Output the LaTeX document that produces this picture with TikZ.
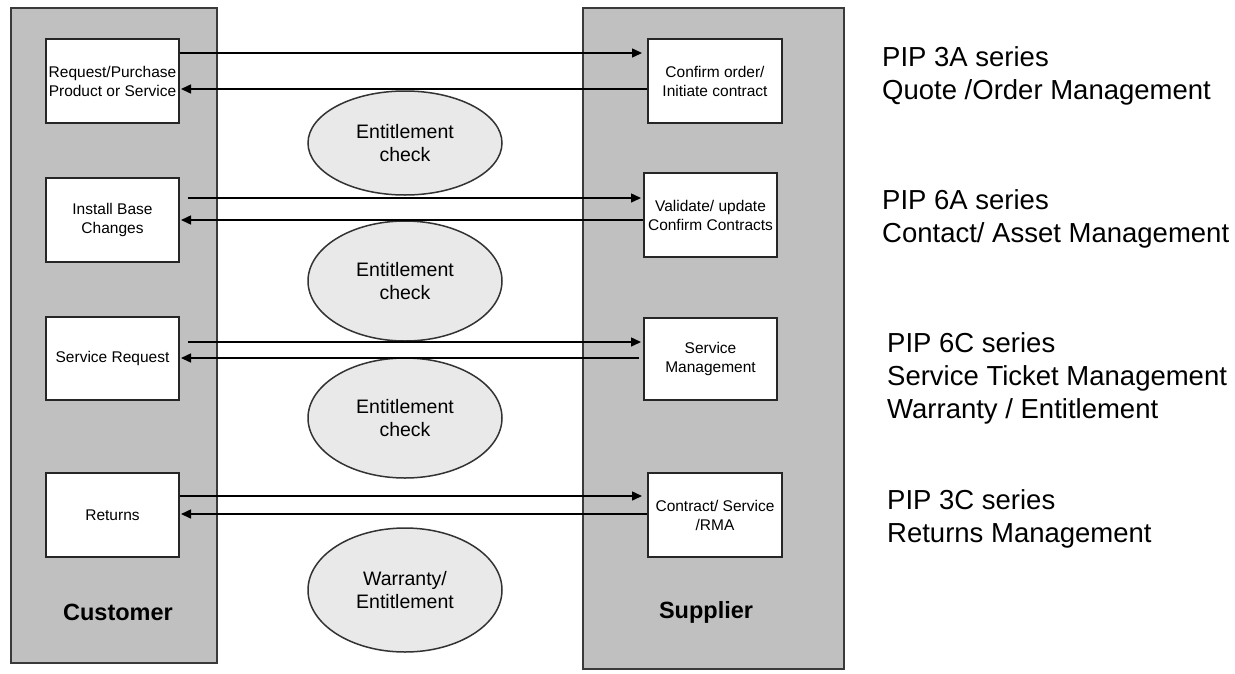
\documentclass[tikz,border=0pt]{standalone}
\usepackage{fontspec}
\setmainfont{Liberation Sans}
\usetikzlibrary{arrows.meta,shapes.geometric,calc}
\definecolor{colfill}{HTML}{C0C0C0}
\definecolor{ellfill}{HTML}{E9E9E9}
\definecolor{colline}{HTML}{3A3A3A}
\begin{document}
\begin{tikzpicture}[x=1pt,y=-1pt,
  column/.style={draw=colline, line width=2pt, fill=colfill, inner sep=0pt, rectangle},
  procbox/.style={draw=black!85, line width=2pt, fill=white, inner sep=0pt, align=center, font=\fontsize{15.5}{19}\selectfont},
  check/.style={ellipse, draw=black!80, line width=1.5pt, fill=ellfill, inner sep=0pt, minimum width=194pt, align=center, font=\fontsize{19.5}{23}\selectfont},
  flow/.style={line width=1.5pt, -{Triangle[length=10pt,width=9pt]}},
  side/.style={font=\fontsize{27.5}{33}\selectfont, anchor=base west, inner sep=0pt},
  party/.style={font=\bfseries\fontsize{23.5}{26}\selectfont, inner sep=0pt}
]
\useasboundingbox (0,0) rectangle (1235,673);
\fill[white] (0,0) rectangle (1235,673);

% columns
\node[column, minimum width=206pt, minimum height=655pt] (cust) at (114,335.5) {};
\node[column, minimum width=261pt, minimum height=661pt] (supp) at (713.5,338.5) {};

% customer boxes
\node[procbox, minimum width=133pt, minimum height=84pt] (c1) at (112.5,81) {Request/Purchase\\Product or Service};
\node[procbox, minimum width=133pt, minimum height=84pt] (c2) at (112.5,220) {Install Base\\Changes};
\node[procbox, minimum width=133pt, minimum height=83pt] (c3) at (112.5,358.5) {Service Request};
\node[procbox, minimum width=133pt, minimum height=84pt] (c4) at (112.5,515) {Returns};

% supplier boxes
\node[procbox, minimum width=134pt, minimum height=84pt] (s1) at (715,81) {Confirm order/\\Initiate contract};
\node[procbox, minimum width=133pt, minimum height=84pt] (s2) at (710.5,215) {Validate/ update\\Confirm Contracts};
\node[procbox, minimum width=133pt, minimum height=82pt] (s3) at (710.5,359) {Service\\Management};
\node[procbox, minimum width=134pt, minimum height=84pt] (s4) at (715,515) {Contract/ Service\\/RMA};

% party labels
\node[party] (custlabel) at (118,612) {Customer};
\node[party] (supplabel) at (706,612) {Supplier};

% ellipses
\node[check, minimum height=104pt] (e1) at (405,143) {Entitlement\\check};
\node[check, minimum height=120pt] (e2) at (405,281) {Entitlement\\check};
\node[check, minimum height=120pt] (e3) at (405,418) {Entitlement\\check};
\node[check, minimum height=124pt] (e4) at (405,590) {Warranty/\\Entitlement};

% flows
\coordinate (r1t) at (c1.east |- 0,53);
\coordinate (r1b) at (s1.west |- 0,89);
\coordinate (r2t) at ($(c2.east |- 0,198)+(8,0)$);
\coordinate (r2b) at (s2.west |- 0,220);
\coordinate (r3t) at ($(c3.east |- 0,342)+(8,0)$);
\coordinate (r3b) at ($(s3.west |- 0,358)+(-4,0)$);
\coordinate (r4t) at (c4.east |- 0,496);
\coordinate (r4b) at (s4.west |- 0,514);

\draw[flow, shorten >=5pt] (r1t) -- (r1t -| s1.west);
\draw[flow, shorten >=1pt] (r1b) -- (r1b -| c1.east);
\draw[flow, shorten >=2pt] (r2t) -- (r2t -| s2.west);
\draw[flow, shorten >=1pt] (r2b) -- (r2b -| c2.east);
\draw[flow, shorten >=2pt] (r3t) -- (r3t -| s3.west);
\draw[flow, shorten >=1pt] (r3b) -- (r3b -| c3.east);
\draw[flow, shorten >=5pt] (r4t) -- (r4t -| s4.west);
\draw[flow, shorten >=1pt] (r4b) -- (r4b -| c4.east);

% side texts
\node[side] (p1a) at (882,66) {PIP 3A series};
\node[side] (p1b) at (882,99) {Quote /Order Management};
\node[side] (p2a) at (882,209) {PIP 6A series};
\node[side] (p2b) at (882,242) {Contact/ Asset Management};
\node[side] (p3a) at (887,352) {PIP 6C series};
\node[side] (p3b) at (887,385) {Service Ticket Management};
\node[side] (p3c) at (887,418) {Warranty / Entitlement};
\node[side] (p4a) at (887,509) {PIP 3C series};
\node[side] (p4b) at (887,542) {Returns Management};
\end{tikzpicture}
\end{document}
